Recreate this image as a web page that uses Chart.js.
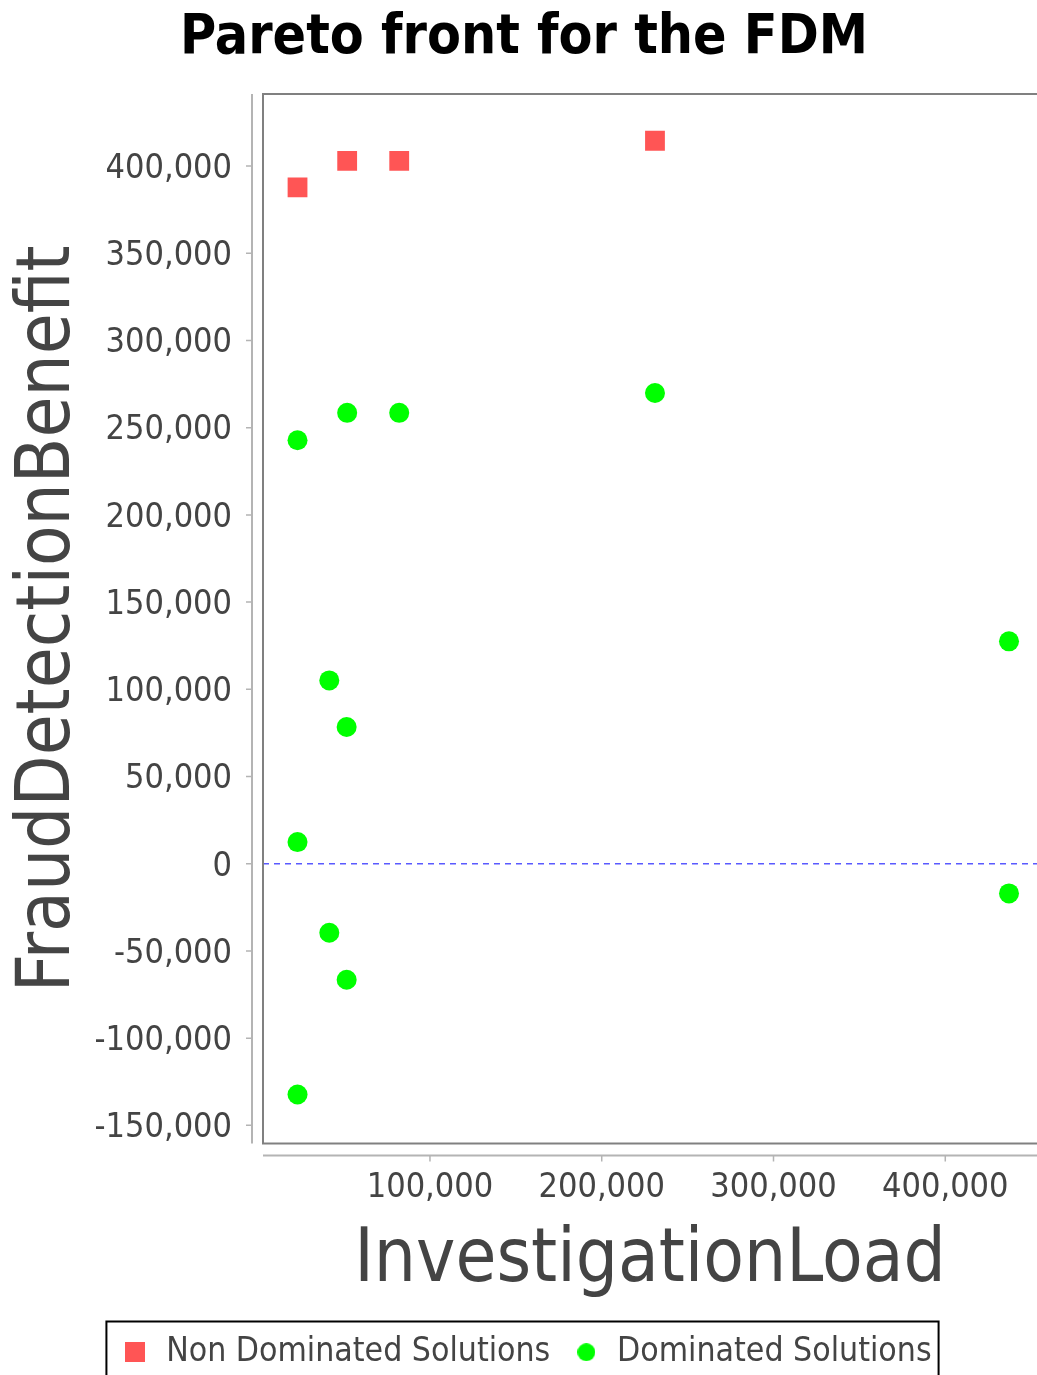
<!DOCTYPE html>
<html>
<head>
<meta charset="utf-8">
<script src="https://cdn.jsdelivr.net/npm/chart.js@4.4.0/dist/chart.umd.min.js"></script>
<style>
  html, body { margin: 0; padding: 0; background: #fff; }
  canvas { display: block; }
</style>
</head>
<body>
<canvas id="chart1" width="1037" height="1375"></canvas>
<script>
// values
const nonDomX = [22900, 51800, 82100, 231000];
const nonDomY = [387800, 403000, 403000, 414500];

const domX = [22900, 51800, 82100, 231000, 437100, 41400, 51500, 22900, 41400, 51500, 437100, 22900];
const domY = [242800, 258500, 258500, 269900, 127500, 105100, 78400, 12400, -39600, -66500, -17000, -132300];

const xTicks = [100000, 200000, 300000, 400000];
const yTicks = [-150000, -100000, -50000, 0, 50000, 100000, 150000, 200000, 250000, 300000, 350000, 400000];

const FONT = "'DejaVu Sans Condensed', 'DejaVu Sans', sans-serif";
const RED = '#ff5555';
const GREEN = '#00ff00';

function toPoints(xs, ys) {
  return xs.map((x, i) => ({ x: x, y: ys[i] }));
}

// little marker images for the legend
function marker(kind, size, color) {
  const c = document.createElement('canvas');
  c.width = size; c.height = size;
  const g = c.getContext('2d');
  g.fillStyle = color;
  if (kind === 'rect') {
    g.fillRect(0, 0, size, size);
  } else {
    g.beginPath();
    g.arc(size / 2, size / 2, size / 2, 0, Math.PI * 2);
    g.fill();
  }
  return c;
}
const legendMarks = [marker('rect', 20, RED), marker('circle', 18, GREEN)];

const framePlugin = {
  id: 'frame',
  afterLayout(chart) {
    const lg = chart.legend;
    lg.left += 8; lg.right += 8;
    lg.top += 4; lg.bottom += 4;
    const tb = chart.titleBlock;
    tb.left += 5.5; tb.right += 5.5;
  },
  beforeDatasetsDraw(chart) {
    const ctx = chart.ctx;
    const a = chart.chartArea;
    const xs = chart.scales.x, ys = chart.scales.y;
    ctx.save();
    // zero marker
    const y0 = ys.getPixelForValue(0);
    ctx.strokeStyle = 'rgb(90,90,255)';
    ctx.lineWidth = 1.6;
    ctx.setLineDash([6, 5]);
    ctx.beginPath();
    ctx.moveTo(a.left, y0); ctx.lineTo(a.right + 5, y0);
    ctx.stroke();
    ctx.setLineDash([]);
    // plot outline
    ctx.strokeStyle = '#808080';
    ctx.lineWidth = 2;
    ctx.strokeRect(a.left, a.top, a.right - a.left + 10, a.bottom - a.top);
    // axis lines set off from the plot
    ctx.strokeStyle = '#b4b4b4';
    ctx.lineWidth = 2;
    ctx.beginPath();
    ctx.moveTo(a.left - 11, a.top); ctx.lineTo(a.left - 11, a.bottom);
    ctx.moveTo(a.left, a.bottom + 12); ctx.lineTo(a.right + 5, a.bottom + 12);
    ctx.stroke();
    ctx.lineWidth = 1.5;
    ctx.beginPath();
    yTicks.forEach(v => {
      const p = ys.getPixelForValue(v);
      ctx.moveTo(a.left - 17, p); ctx.lineTo(a.left - 11, p);
    });
    xTicks.forEach(v => {
      const p = xs.getPixelForValue(v);
      ctx.moveTo(p, a.bottom + 12); ctx.lineTo(p, a.bottom + 18);
    });
    ctx.stroke();
    ctx.restore();
  },
  afterDraw(chart) {
    const lg = chart.legend;
    const pad = lg.options.labels.padding;
    const total = lg.lineWidths[0];
    const start = (lg.left + pad + lg.right - total) / 2;
    const end = start + total - pad;
    const ctx = chart.ctx;
    ctx.save();
    ctx.strokeStyle = '#000';
    ctx.lineWidth = 2;
    const top = lg.top + pad + 17 - 31;
    ctx.strokeRect(start - 15, top, end - start + 22, 200);
    ctx.restore();
  }
};

const ctx = document.getElementById('chart1').getContext('2d');
const myChart = new Chart(ctx, {
  type: 'scatter',
  data: {
    datasets: [
      {
        label: 'Non Dominated Solutions',
        data: toPoints(nonDomX, nonDomY),
        pointStyle: 'rect',
        pointRadius: 14,
        pointHoverRadius: 14,
        backgroundColor: RED,
        borderColor: RED,
        borderWidth: 0
      },
      {
        label: 'Dominated Solutions',
        data: toPoints(domX, domY),
        pointStyle: 'circle',
        pointRadius: 10,
        pointHoverRadius: 10,
        backgroundColor: GREEN,
        borderColor: GREEN,
        borderWidth: 0
      }
    ]
  },
  options: {
    responsive: false,
    animation: false,
    events: [],
    layout: { padding: 0, autoPadding: false },
    scales: {
      x: {
        type: 'linear',
        min: 2800,
        max: 453400,
        grid: { display: false, drawTicks: false },
        border: { display: false },
        afterBuildTicks: s => { s.ticks = xTicks.map(v => ({ value: v })); },
        afterFit: s => { s.height = 166; s.paddingLeft = 0; s.paddingRight = 0; },
        ticks: {
          padding: 24,
          color: '#444',
          font: { family: FONT, size: 34 },
          callback: v => v.toLocaleString('en-US')
        },
        title: {
          display: true,
          text: 'InvestigationLoad',
          color: '#444',
          font: { family: FONT, size: 74 },
          padding: { top: 0, bottom: 3 }
        }
      },
      y: {
        type: 'linear',
        min: -160400,
        max: 441300,
        grid: { display: false, drawTicks: false },
        border: { display: false },
        afterBuildTicks: s => { s.ticks = yTicks.map(v => ({ value: v })); },
        afterFit: s => { s.width = 263; },
        ticks: {
          padding: 31,
          labelOffset: 3,
          color: '#444',
          font: { family: FONT, size: 34 },
          callback: v => v.toLocaleString('en-US')
        },
        title: {
          display: true,
          text: 'FraudDetectionBenefit',
          color: '#444',
          font: { family: FONT, size: 74 },
          padding: { top: 5, bottom: 0 }
        }
      }
    },
    plugins: {
      tooltip: { enabled: false },
      title: {
        display: true,
        text: 'Pareto front for the FDM',
        color: '#000',
        font: { family: FONT, size: 55, weight: 'bold' },
        padding: { top: 6.2, bottom: 21.8 }
      },
      legend: {
        position: 'bottom',
        labels: {
          color: '#444',
          font: { family: FONT, size: 33.5 },
          usePointStyle: true,
          pointStyleWidth: 28,
          padding: 22,
          generateLabels: chart => {
            const items = Chart.defaults.plugins.legend.labels.generateLabels(chart);
            items.forEach((it, i) => { it.pointStyle = legendMarks[i]; });
            return items;
          }
        }
      }
    }
  },
  plugins: [framePlugin]
});
</script>
</body>
</html>
